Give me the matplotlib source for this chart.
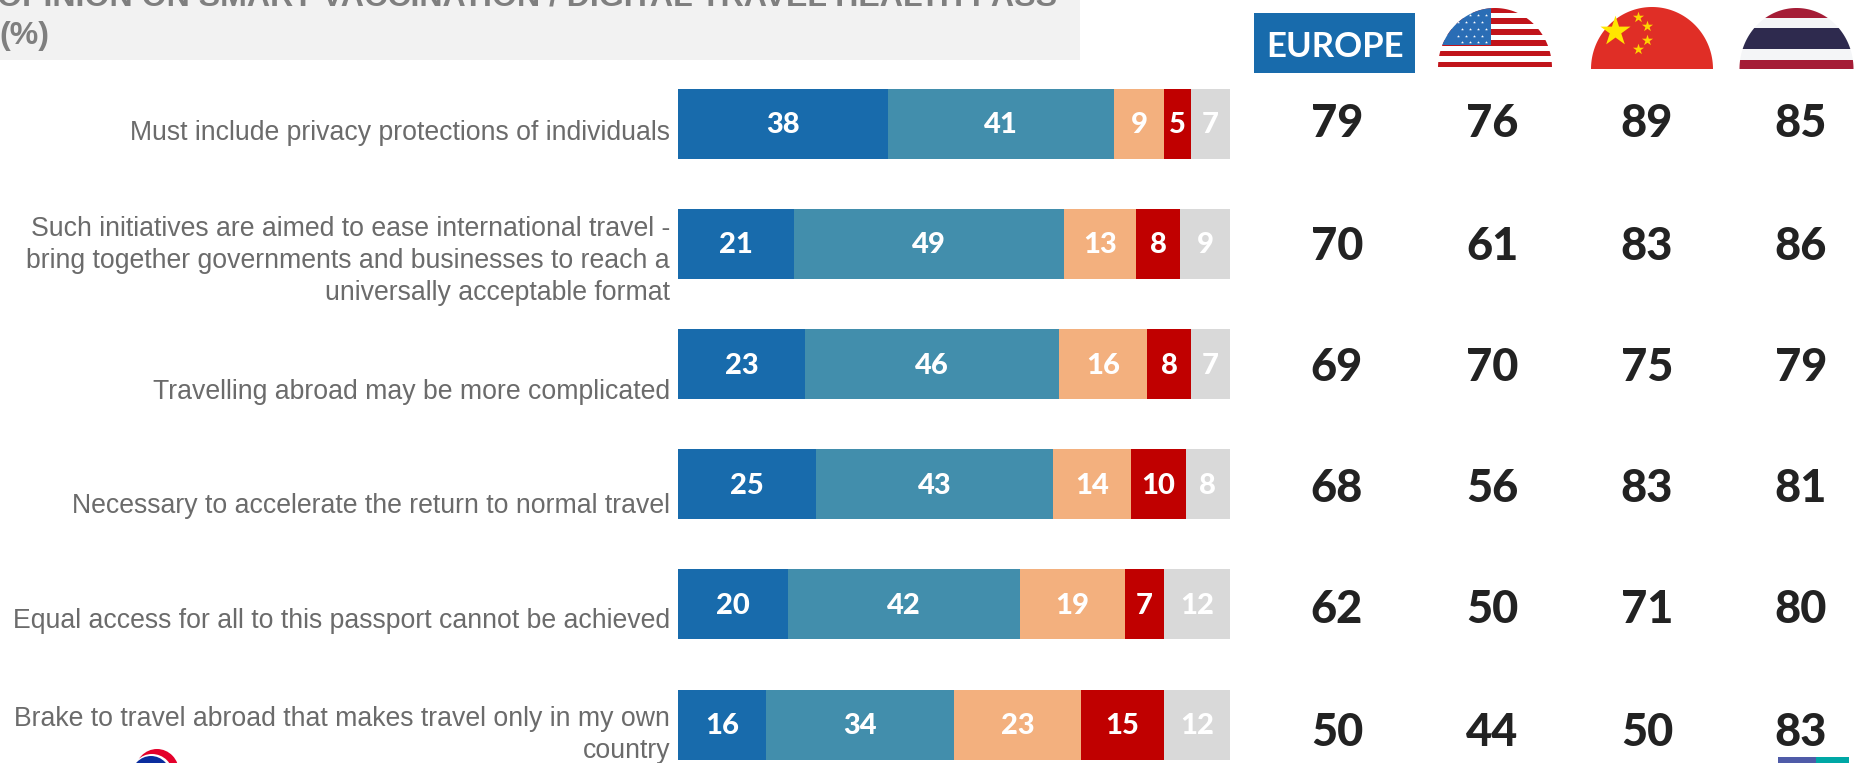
import matplotlib

matplotlib.use("Agg")
import matplotlib.pyplot as plt
import numpy as np
from matplotlib.patches import Ellipse, Polygon, Rectangle

W, H = 1864, 763

statements = [
    "Must include privacy protections of individuals",
    "Such initiatives are aimed to ease international travel -\nbring together governments and businesses to reach a\nuniversally acceptable format",
    "Travelling abroad may be more complicated",
    "Necessary to accelerate the return to normal travel",
    "Equal access for all to this passport cannot be achieved",
    "Brake to travel abroad that makes travel only in my own\ncountry",
]
completely_agree = [38, 21, 23, 25, 20, 16]
somewhat_agree = [41, 49, 46, 43, 42, 34]
somewhat_disagree = [9, 13, 16, 14, 19, 23]
completely_disagree = [5, 8, 8, 10, 7, 15]
no_answer = [7, 9, 7, 8, 12, 12]

europe = [79, 70, 69, 68, 62, 50]
usa = [76, 61, 70, 56, 50, 44]
china = [89, 83, 75, 83, 71, 50]
thailand = [85, 86, 79, 81, 80, 83]

series = [completely_agree, somewhat_agree, somewhat_disagree, completely_disagree, no_answer]
colors = ["#186bac", "#428eac", "#f3b07e", "#c00000", "#d9d9d9"]

title = "OPINION ON SMART VACCINATION / DIGITAL TRAVEL HEALTH PASS"
label_y = [133, 261, 392, 506, 621, 735]
value_y = [124, 247, 368, 489, 610, 733]
column_x = [1337, 1492, 1647, 1801]

FONT_LABEL = "Liberation Sans"
FONT_NUM = "Lato"

fig = plt.figure(figsize=(W / 100, H / 100), dpi=100, facecolor="white")

# overlay in pixel coordinates for the header, labels and flags
pix = fig.add_axes([0, 0, 1, 1])
pix.set_xlim(0, W)
pix.set_ylim(H, 0)
pix.axis("off")

# stacked bars
bar_left, bar_right = 678, 1230
ax = fig.add_axes([bar_left / W, 0, (bar_right - bar_left) / W, 1])
ax.set_xlim(0, 100)
ax.set_ylim((H - 124) / 120.1, -124 / 120.1)
ax.axis("off")
ax.patch.set_alpha(0)

rows = np.arange(len(statements))
left = np.zeros(len(statements))
for values, color in zip(series, colors):
    bars = ax.barh(rows, values, left=left, height=70 / 120.1, color=color, linewidth=0)
    labels = ax.bar_label(bars, label_type="center", color="white", fontsize=21,
                          fontweight=900, family=FONT_NUM)
    for lab in labels:
        lab.set_y(lab.get_position()[1])
        lab.xyann = (lab.xyann[0], lab.xyann[1] - 1)
    left += values

# header band
pix.add_patch(Rectangle((0, 0), 1080, 60, color="#f2f2f2", linewidth=0))
pix.text(-3, 6, title, fontsize=23.1, fontweight="bold", color="#7f7f7f",
         family=FONT_LABEL, va="baseline")
pix.text(-1, 44, "(%)", fontsize=23.1, fontweight="bold", color="#7f7f7f",
         family=FONT_LABEL, va="baseline")

for text, y in zip(statements, label_y):
    pix.text(670, y, text, ha="right", va="center", fontsize=19.2, color="#6b6b6b",
             family=FONT_LABEL, linespacing=1.31)

for x, col in zip(column_x, [europe, usa, china, thailand]):
    for y, val in zip(value_y, col):
        pix.text(x, y, str(val), ha="center", va="center", fontsize=32.5,
                 fontweight=900, color="#222222", family=FONT_NUM)

# EUROPE tag
pix.add_patch(Rectangle((1254, 13), 161, 60, color="#186bac", linewidth=0))
pix.text(1335, 47, "EUROPE", ha="center", va="center", color="white",
         fontsize=25, fontweight="bold", family=FONT_NUM)


def dome(cx, rx, top, bottom, base_color):
    # half-ellipse outline, also used to clip the flag stripes
    theta = np.linspace(np.pi, 2 * np.pi, 90)
    outline = np.column_stack([cx + rx * np.cos(theta), bottom + (bottom - top) * np.sin(theta)])
    shape = Polygon(outline, closed=True, color=base_color, linewidth=0)
    pix.add_patch(shape)
    return shape


# USA
us = dome(1495, 57, 8, 68, "white")
for top in [7, 18, 29, 40, 50.5, 61.5]:
    st = Rectangle((1430, top), 130, 5.5, color="#c1141b", linewidth=0)
    pix.add_patch(st)
    st.set_clip_path(us)
canton = Rectangle((1430, 8), 61, 37, color="#2a6db5", linewidth=0)
pix.add_patch(canton)
canton.set_clip_path(us)
star_x = [1462, 1470, 1478, 1486]
star_y = [15, 22, 29, 36, 42]
for i, sy in enumerate(star_y):
    for sx in star_x:
        dots = pix.scatter(sx - (i % 2) * 4, sy, s=5, color="white", marker="*", linewidth=0)
        dots.set_clip_path(us)

# China
dome(1652, 61, 7, 69, "#e02e26")
pix.scatter([1615], [31], s=520, marker="*", color="#ffe600", linewidth=0, zorder=2)
pix.scatter([1638, 1647, 1647, 1638], [17, 26, 40, 49], s=70, marker="*", color="#ffd400",
            linewidth=0, zorder=2)

# Thailand
th = dome(1796.5, 57, 8, 69, "#f4f5f7")
for top, height, color in [(8, 9.5, "#a51c36"), (28, 21, "#2e2a4e"), (60, 9, "#a51c36")]:
    band = Rectangle((1735, top), 125, height, color=color, linewidth=0)
    pix.add_patch(band)
    band.set_clip_path(th)

# logo fragments along the lower edge
pix.add_patch(Ellipse((157, 772), 44, 46, color="#e4002b", linewidth=0))
pix.add_patch(Ellipse((152, 775), 42, 42, color="white", linewidth=0))
pix.add_patch(Ellipse((151, 777), 40, 42, color="#0a2d9e", linewidth=0))
pix.add_patch(Rectangle((1778, 757), 38, 6, color="#4f5ba8", linewidth=0))
pix.add_patch(Rectangle((1816, 757), 33, 6, color="#00a7a5", linewidth=0))

fig.savefig("out.png", dpi=100)
